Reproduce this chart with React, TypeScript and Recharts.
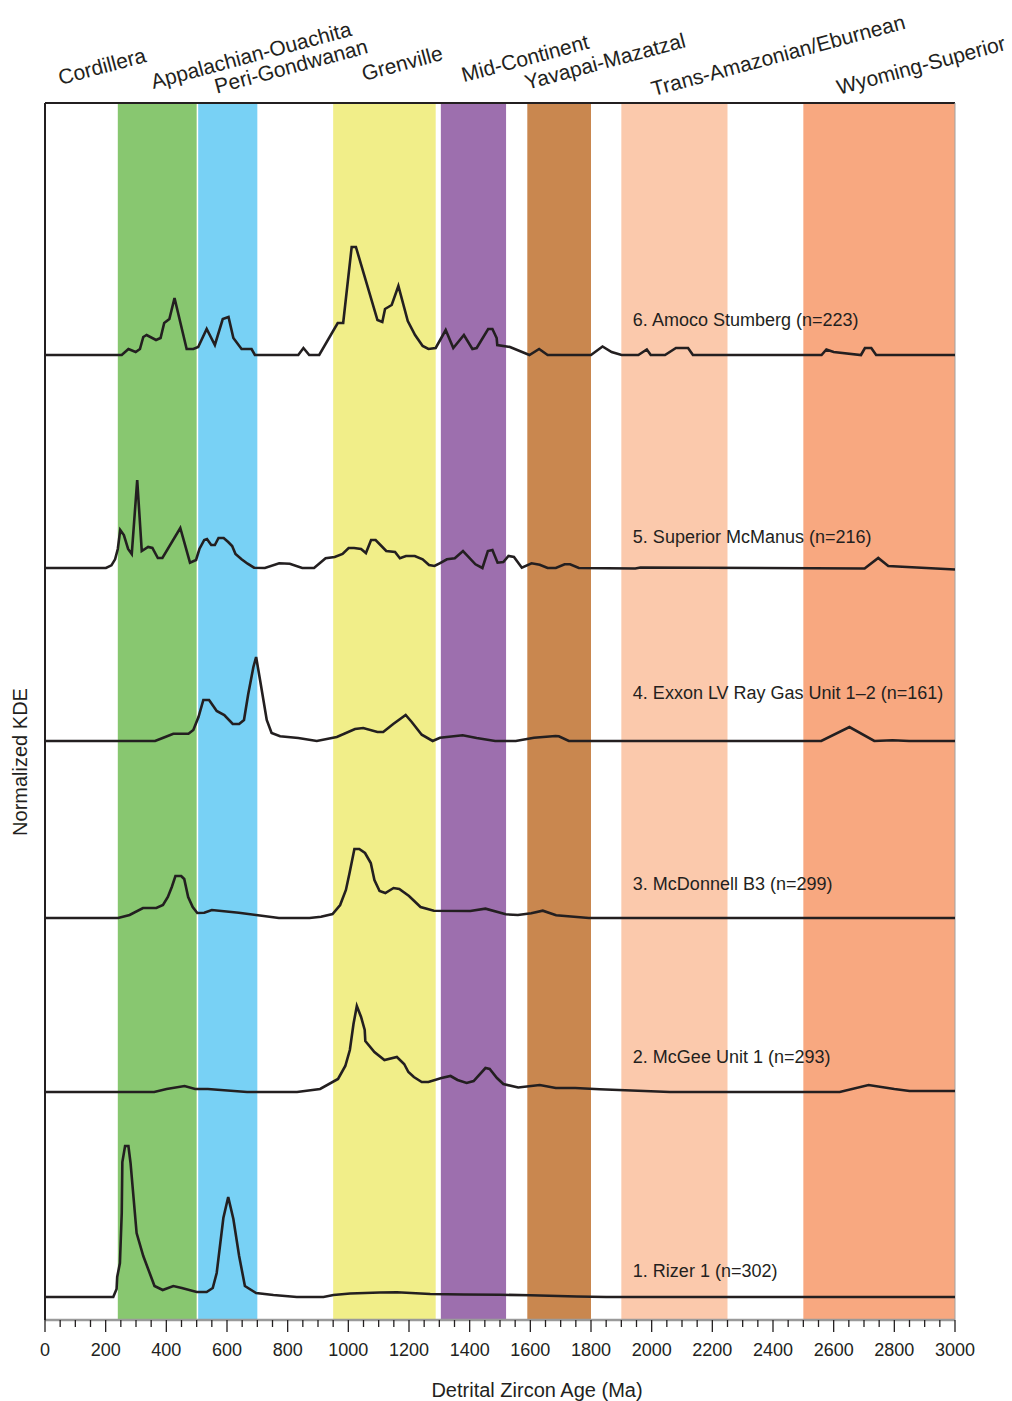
import {
  LineChart,
  Line,
  XAxis,
  YAxis,
  ReferenceArea,
  ReferenceLine,
  ReferenceDot,
} from "recharts";

const W = 1012;
const H = 1401;
const FONT = "'Liberation Sans', Arial, Helvetica, sans-serif";
const INK = "#231f20";

// basement provinces, age ranges in Ma
const PROVINCES = [
  "Appalachian-Ouachita",
  "Peri-Gondwanan",
  "Grenville",
  "Mid-Continent",
  "Yavapai-Mazatzal",
  "Trans-Amazonian/Eburnean",
  "Wyoming-Superior",
];
const PROVINCE_START = [240, 505, 950, 1305, 1590, 1900, 2500];
const PROVINCE_END = [500, 700, 1288, 1520, 1800, 2250, 3000];
const PROVINCE_COLORS = ["#88c770", "#78d1f5", "#f1ee89", "#9d6fae", "#c9874f", "#fbc9ac", "#f8a880"];

// labels written above the plot (Cordillera has no band)
const REGION_LABELS = [
  "Cordillera",
  "Appalachian-Ouachita",
  "Peri-Gondwanan",
  "Grenville",
  "Mid-Continent",
  "Yavapai-Mazatzal",
  "Trans-Amazonian/Eburnean",
  "Wyoming-Superior",
];
const REGION_LABEL_XY = [
  [102, 66],
  [251, 55],
  [291, 66],
  [402, 63],
  [525, 58],
  [605, 61],
  [778, 55],
  [921, 65],
];

// samples, bottom to top
const SAMPLE_NAMES = [
  "1. Rizer 1 (n=302)",
  "2. McGee Unit 1 (n=293)",
  "3. McDonnell B3 (n=299)",
  "4. Exxon LV Ray Gas Unit 1\u20132 (n=161)",
  "5. Superior McManus (n=216)",
  "6. Amoco Stumberg (n=223)",
];
const SAMPLE_OFFSETS = [0.23, 2.28, 4.02, 5.79, 7.52, 9.65];
const LABEL_LIFT = [0.26, 0.35, 0.34, 0.48, 0.31, 0.35];
const LABEL_AGE = 1938;

// [age Ma, normalized KDE]
const KDE_1: [number, number][] = [
  [0, 0], [225, 0], [236, 0.08], [238, 0.2], [247, 0.34], [253, 0.84], [255, 1.35], [264, 1.51],
  [275, 1.51], [282, 1.34], [302, 0.64], [324, 0.41], [361, 0.11], [388, 0.07], [423, 0.11],
  [451, 0.09], [500, 0.05], [533, 0.05], [553, 0.09], [566, 0.24], [588, 0.79], [604, 1.0],
  [621, 0.78], [640, 0.41], [659, 0.11], [696, 0.04], [753, 0.02], [830, 0], [918, 0],
  [951, 0.02], [1006, 0.035], [1104, 0.045], [1160, 0.047], [1270, 0.03], [1380, 0.025],
  [1500, 0.022], [1600, 0.018], [1753, 0.005], [1850, 0], [3000, 0],
];
const KDE_2: [number, number][] = [
  [0, 0], [360, 0], [401, 0.03], [460, 0.06], [495, 0.03], [537, 0.03], [666, 0], [831, 0],
  [907, 0.03], [966, 0.13], [990, 0.26], [1005, 0.42], [1017, 0.68], [1028, 0.86], [1042, 0.75],
  [1054, 0.62], [1056, 0.51], [1086, 0.4], [1119, 0.32], [1160, 0.35], [1184, 0.28], [1198, 0.2],
  [1216, 0.15], [1242, 0.1], [1264, 0.1], [1307, 0.14], [1337, 0.16], [1360, 0.12], [1390, 0.09],
  [1413, 0.11], [1452, 0.24], [1466, 0.23], [1490, 0.14], [1511, 0.08], [1560, 0.045],
  [1631, 0.07], [1684, 0.04], [1748, 0.04], [1828, 0.027], [2060, 0], [2620, 0], [2715, 0.07],
  [2800, 0.03], [2850, 0.01], [3000, 0.01],
];
const KDE_3: [number, number][] = [
  [0, 0], [241, 0], [279, 0.03], [323, 0.1], [367, 0.1], [389, 0.13], [405, 0.21], [418, 0.31],
  [430, 0.42], [449, 0.42], [459, 0.39], [472, 0.21], [487, 0.11], [502, 0.05], [525, 0.053],
  [550, 0.08], [639, 0.053], [702, 0.027], [771, 0], [872, 0], [910, 0.013], [948, 0.04],
  [973, 0.13], [992, 0.28], [1004, 0.45], [1020, 0.69], [1036, 0.69], [1055, 0.65], [1074, 0.55],
  [1086, 0.38], [1103, 0.27], [1122, 0.25], [1149, 0.3], [1168, 0.29], [1200, 0.22], [1238, 0.11],
  [1282, 0.073], [1402, 0.07], [1452, 0.093], [1519, 0.037], [1559, 0.03], [1603, 0.047],
  [1641, 0.073], [1685, 0.027], [1793, 0], [3000, 0],
];
const KDE_4: [number, number][] = [
  [0, 0], [363, 0], [390, 0.033], [423, 0.073], [473, 0.073], [489, 0.11], [506, 0.24], [522, 0.41],
  [541, 0.41], [566, 0.3], [591, 0.26], [619, 0.17], [640, 0.17], [656, 0.21], [670, 0.47],
  [687, 0.74], [696, 0.84], [709, 0.61], [731, 0.21], [747, 0.08], [775, 0.047], [835, 0.03],
  [896, 0], [962, 0.04], [1022, 0.12], [1049, 0.13], [1096, 0.09], [1115, 0.09], [1148, 0.17],
  [1189, 0.26], [1209, 0.19], [1242, 0.063], [1278, 0], [1302, 0.033], [1377, 0.057],
  [1423, 0.03], [1484, 0], [1552, 0], [1612, 0.033], [1683, 0.05], [1694, 0.047], [1727, 0],
  [2559, 0], [2652, 0.14], [2734, 0], [2794, 0.007], [2849, 0], [3000, 0],
];
const KDE_5: [number, number][] = [
  [0, 0], [201, 0], [219, 0.027], [231, 0.087], [240, 0.19], [248, 0.38], [260, 0.33], [274, 0.19],
  [286, 0.14], [304, 0.88], [319, 0.17], [340, 0.21], [354, 0.2], [372, 0.1], [387, 0.1],
  [446, 0.4], [478, 0.053], [498, 0.08], [509, 0.19], [525, 0.28], [534, 0.29], [548, 0.23],
  [560, 0.23], [572, 0.3], [589, 0.3], [604, 0.26], [617, 0.22], [628, 0.14], [648, 0.087],
  [668, 0.043], [689, 0.003], [725, 0], [772, 0.047], [807, 0.043], [848, 0], [887, 0],
  [925, 0.097], [955, 0.11], [981, 0.14], [1001, 0.2], [1019, 0.2], [1042, 0.19], [1058, 0.15],
  [1075, 0.28], [1090, 0.28], [1125, 0.17], [1154, 0.16], [1170, 0.097], [1190, 0.12],
  [1219, 0.12], [1245, 0.087], [1266, 0.03], [1284, 0.02], [1301, 0.047], [1325, 0.087],
  [1351, 0.097], [1378, 0.17], [1419, 0.037], [1442, 0], [1460, 0.17], [1475, 0.18],
  [1492, 0.053], [1511, 0.06], [1528, 0.12], [1546, 0.11], [1572, 0.003], [1604, 0.047],
  [1631, 0.033], [1657, 0], [1684, 0], [1713, 0.037], [1731, 0.037], [1760, 0], [1946, -0.005],
  [1963, 0.005], [2702, -0.005], [2747, 0.1], [2780, 0.02], [3000, -0.015],
];
const KDE_6: [number, number][] = [
  [0, 0], [253, 0], [275, 0.06], [299, 0.03], [313, 0.06], [324, 0.18], [335, 0.2], [366, 0.15],
  [381, 0.17], [393, 0.32], [410, 0.36], [427, 0.57], [467, 0.06], [489, 0.06], [505, 0.08],
  [533, 0.26], [560, 0.1], [586, 0.36], [605, 0.38], [621, 0.17], [648, 0.06], [681, 0.06],
  [692, 0], [835, 0], [852, 0.07], [871, 0], [904, 0], [965, 0.32], [983, 0.32], [1011, 1.08],
  [1025, 1.08], [1096, 0.35], [1112, 0.33], [1121, 0.46], [1143, 0.5], [1165, 0.69], [1196, 0.34],
  [1220, 0.2], [1245, 0.09], [1264, 0.06], [1288, 0.07], [1321, 0.25], [1346, 0.07], [1381, 0.2],
  [1409, 0.06], [1423, 0.07], [1461, 0.26], [1475, 0.26], [1489, 0.17], [1491, 0.1], [1533, 0.08],
  [1597, 0], [1629, 0.06], [1657, 0], [1800, 0], [1838, 0.085], [1868, 0.03], [1901, 0],
  [1956, 0], [1984, 0.055], [1997, 0], [2044, 0], [2080, 0.07], [2120, 0.07], [2136, 0],
  [2560, 0], [2576, 0.055], [2600, 0.03], [2690, 0], [2703, 0.07], [2724, 0.07], [2740, 0],
  [3000, 0],
];

const X_LABELS = [0, 200, 400, 600, 800, 1000, 1200, 1400, 1600, 1800, 2000, 2200, 2400, 2600, 2800, 3000];
const X_TICKS = Array.from({ length: 61 }, (_, i) => i * 50);
const Y_MAX = 12.17;

const SERIES = [KDE_1, KDE_2, KDE_3, KDE_4, KDE_5, KDE_6].map((pts, i) =>
  pts.map(([age, v]) => ({ age, v: v + SAMPLE_OFFSETS[i] }))
);

function AgeTick({ x, y, payload }: any) {
  const major = X_LABELS.includes(payload.value);
  return (
    <g>
      <line x1={x} x2={x} y1={y} y2={y + (major ? 12 : 7)} stroke={INK} strokeWidth={1.3} />
      {major && (
        <text x={x} y={y + 36} textAnchor="middle" fontSize={18} fill={INK} fontFamily={FONT}>
          {payload.value}
        </text>
      )}
    </g>
  );
}

export default function App() {
  return (
    <div
      style={{
        position: "fixed",
        left: 0,
        top: 0,
        width: W,
        height: H,
        overflow: "hidden",
        background: "#fff",
      }}
    >
      <LineChart width={W} height={H} margin={{ top: 103, right: 57, bottom: 0, left: 0 }}>
        {PROVINCES.map((p, i) => (
          <ReferenceArea
            key={p}
            x1={PROVINCE_START[i]}
            x2={PROVINCE_END[i]}
            fill={PROVINCE_COLORS[i]}
            fillOpacity={1}
            stroke="none"
          />
        ))}
        <XAxis
          type="number"
          dataKey="age"
          domain={[0, 3000]}
          ticks={X_TICKS}
          interval={0}
          height={81}
          tickSize={0}
          tickMargin={0}
          tickLine={false}
          tick={<AgeTick />}
          axisLine={{ stroke: "#9a9a9a", strokeWidth: 2.5 }}
        />
        <YAxis
          type="number"
          domain={[0, Y_MAX]}
          width={45}
          tick={false}
          tickLine={false}
          axisLine={{ stroke: INK, strokeWidth: 2 }}
        />
        <ReferenceLine y={Y_MAX} stroke={INK} strokeWidth={2} />
        <ReferenceLine x={3000} stroke="#a0a0a0" strokeWidth={1} />
        {SERIES.map((data, i) => (
          <Line
            key={SAMPLE_NAMES[i]}
            data={data}
            dataKey="v"
            type="linear"
            stroke={INK}
            strokeWidth={2.6}
            strokeLinejoin="miter"
            dot={false}
            activeDot={false}
            isAnimationActive={false}
          />
        ))}
        {SAMPLE_NAMES.map((name, i) => (
          <ReferenceDot
            key={name}
            x={LABEL_AGE}
            y={SAMPLE_OFFSETS[i] + LABEL_LIFT[i]}
            r={0}
            fill="none"
            stroke="none"
            label={{
              value: name,
              position: "right",
              offset: 0,
              fill: INK,
              fontSize: 18,
              fontFamily: FONT,
            }}
          />
        ))}
      </LineChart>
      <svg
        width={W}
        height={H}
        style={{ position: "absolute", left: 0, top: 0, pointerEvents: "none" }}
        fontFamily={FONT}
        fill={INK}
      >
        {REGION_LABELS.map((t, i) => {
          const [cx, cy] = REGION_LABEL_XY[i];
          return (
            <text
              key={t}
              x={cx}
              y={cy}
              fontSize={21}
              textAnchor="middle"
              dominantBaseline="central"
              transform={`rotate(-15 ${cx} ${cy})`}
            >
              {t}
            </text>
          );
        })}
        <text x={537} y={1390} fontSize={20} textAnchor="middle" dominantBaseline="central">
          Detrital Zircon Age (Ma)
        </text>
        <text
          x={20}
          y={762}
          fontSize={20}
          textAnchor="middle"
          dominantBaseline="central"
          transform="rotate(-90 20 762)"
        >
          Normalized KDE
        </text>
      </svg>
    </div>
  );
}
